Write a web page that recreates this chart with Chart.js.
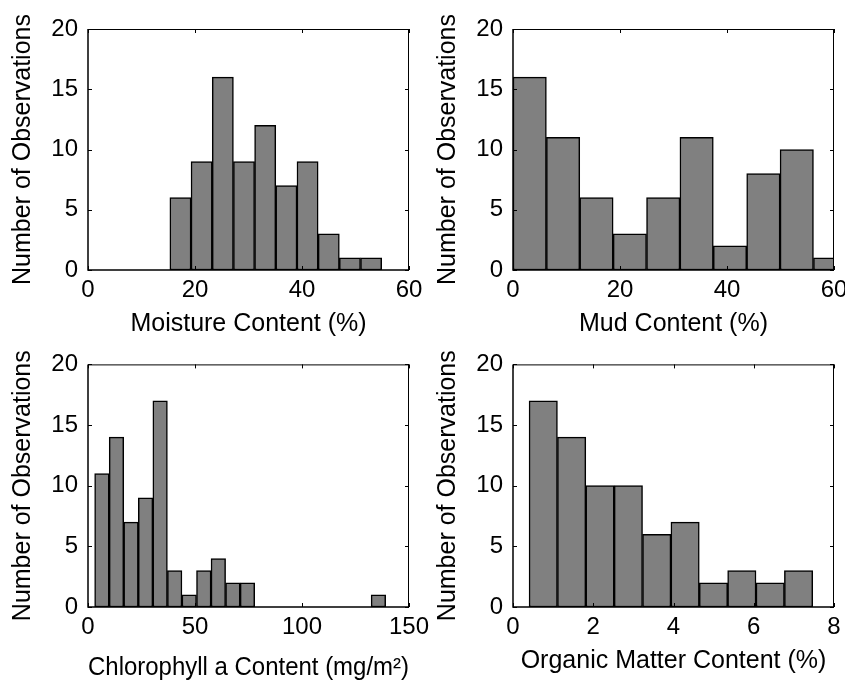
<!DOCTYPE html>
<html>
<head>
<meta charset="utf-8">
<title>Sediment histograms</title>
<script src="https://cdn.jsdelivr.net/npm/chart.js@4.4.0/dist/chart.umd.min.js"></script>
<style>
  html, body { margin: 0; padding: 0; background: #fff; overflow: hidden; }
  #wrap { position: relative; width: 845px; height: 681px; overflow: hidden; }
  .panel { position: absolute; }
</style>
</head>
<body>
<div id="wrap">
  <div class="panel" style="left:0;top:0"><canvas id="moisture" width="440" height="340"></canvas></div>
  <div class="panel" style="left:425px;top:0"><canvas id="mud" width="440" height="340"></canvas></div>
  <div class="panel" style="left:0;top:340px"><canvas id="chl" width="440" height="350"></canvas></div>
  <div class="panel" style="left:425px;top:340px"><canvas id="organic" width="440" height="350"></canvas></div>
</div>
<script>
var countTicks = [0, 5, 10, 15, 20];

// bin centres and counts for each histogram
var moistureCenters = [17.28, 21.24, 25.20, 29.16, 33.12, 37.08, 41.04, 45.00, 48.96, 52.92];
var moistureCounts = [6, 9, 16, 9, 12, 7, 9, 3, 1, 1];
var moistureTicks = [0, 20, 40, 60];

var mudCenters = [3.12, 9.36, 15.60, 21.84, 28.08, 34.32, 40.56, 46.80, 53.04, 59.28];
var mudCounts = [16, 11, 6, 3, 6, 11, 2, 8, 10, 1];
var mudTicks = [0, 20, 40, 60];

var chlCenters = [6.5, 13.3, 20.1, 26.9, 33.7, 40.5, 47.3, 54.1, 60.9, 67.7,
                  74.5, 81.3, 88.1, 94.9, 101.7, 108.5, 115.3, 122.1, 128.9, 135.7];
var chlCounts = [11, 14, 7, 9, 17, 3, 1, 3, 4, 2, 2, 0, 0, 0, 0, 0, 0, 0, 0, 1];
var chlTicks = [0, 50, 100, 150];

var organicCenters = [0.754, 1.461, 2.168, 2.875, 3.582, 4.289, 4.996, 5.703, 6.410, 7.117];
var organicCounts = [17, 14, 10, 10, 6, 7, 2, 3, 2, 3];
var organicTicks = [0, 2, 4, 6, 8];

var FONT = '"Liberation Sans", Arial, Helvetica, sans-serif';

// box around the axes with inward tick marks on all four sides
var boxTicks = {
  id: 'boxTicks',
  afterDatasetsDraw: function (chart) {
    var ctx = chart.ctx, a = chart.chartArea;
    var xs = chart.scales.x, ys = chart.scales.y;
    var len = 4;
    ctx.save();
    ctx.strokeStyle = '#000';
    ctx.lineWidth = 1;
    ctx.beginPath();
    xs.ticks.forEach(function (t) {
      var px = Math.round(xs.getPixelForValue(t.value)) + 0.5;
      ctx.moveTo(px, a.bottom); ctx.lineTo(px, a.bottom - len);
      ctx.moveTo(px, a.top); ctx.lineTo(px, a.top + len);
    });
    ys.ticks.forEach(function (t) {
      var py = Math.round(ys.getPixelForValue(t.value)) + 0.5;
      ctx.moveTo(a.left, py); ctx.lineTo(a.left + len, py);
      ctx.moveTo(a.right, py); ctx.lineTo(a.right - len, py);
    });
    // top and right edges
    ctx.moveTo(a.left, a.top + 0.5); ctx.lineTo(a.right, a.top + 0.5);
    ctx.moveTo(a.right - 0.5, a.top); ctx.lineTo(a.right - 0.5, a.bottom);
    ctx.stroke();
    // left and bottom edges a little heavier
    ctx.lineWidth = 1.5;
    ctx.beginPath();
    ctx.moveTo(a.left, a.top); ctx.lineTo(a.left, a.bottom);
    ctx.lineTo(a.right, a.bottom);
    ctx.stroke();
    ctx.restore();
  }
};

function histogram(id, centers, counts, xTicks, xTitle, axisHeight, titlePad, padTop) {
  var points = centers.map(function (c, i) { return { x: c, y: counts[i] }; });
  return new Chart(document.getElementById(id), {
    type: 'bar',
    data: {
      datasets: [{
        data: points,
        backgroundColor: '#808080',
        borderColor: '#000',
        borderWidth: 1.5,
        borderSkipped: false,
        barPercentage: 1,
        categoryPercentage: 1,
        clip: 0
      }]
    },
    options: {
      responsive: false,
      animation: false,
      events: [],
      layout: { padding: { top: padTop, right: 31, bottom: 0, left: 0 } },
      plugins: { legend: { display: false }, tooltip: { enabled: false } },
      scales: {
        x: {
          type: 'linear',
          offset: false,
          min: xTicks[0],
          max: xTicks[xTicks.length - 1],
          afterBuildTicks: function (s) { s.ticks = xTicks.map(function (v) { return { value: v }; }); },
          afterFit: function (s) { s.height = axisHeight; },
          grid: { display: false, drawTicks: false },
          border: { display: false },
          ticks: { color: '#000', padding: 6, maxRotation: 0, autoSkip: false,
                   font: { family: FONT, size: 24 } },
          title: { display: true, text: xTitle, color: '#000',
                   padding: { top: 0, bottom: titlePad },
                   font: { family: FONT, size: 25 } }
        },
        y: {
          type: 'linear',
          min: 0,
          max: 20,
          afterBuildTicks: function (s) { s.ticks = countTicks.map(function (v) { return { value: v }; }); },
          afterFit: function (s) { s.width = 88; },
          grid: { display: false, drawTicks: false },
          border: { display: false },
          ticks: { color: '#000', padding: 10, font: { family: FONT, size: 24 } },
          title: { display: true, text: 'Number of Observations', color: '#000',
                   padding: { top: 8, bottom: 0 },
                   font: { family: FONT, size: 25 } }
        }
      }
    },
    plugins: [boxTicks]
  });
}

histogram('moisture', moistureCenters, moistureCounts, moistureTicks, 'Moisture Content (%)', 70, 1, 29);
histogram('mud', mudCenters, mudCounts, mudTicks, 'Mud Content (%)', 70, 1, 29);
histogram('chl', chlCenters, chlCounts, chlTicks, 'Chlorophyll a Content (mg/m²)', 83, 7, 24);
histogram('organic', organicCenters, organicCounts, organicTicks, 'Organic Matter Content (%)', 83, 14, 24);
</script>
</body>
</html>
